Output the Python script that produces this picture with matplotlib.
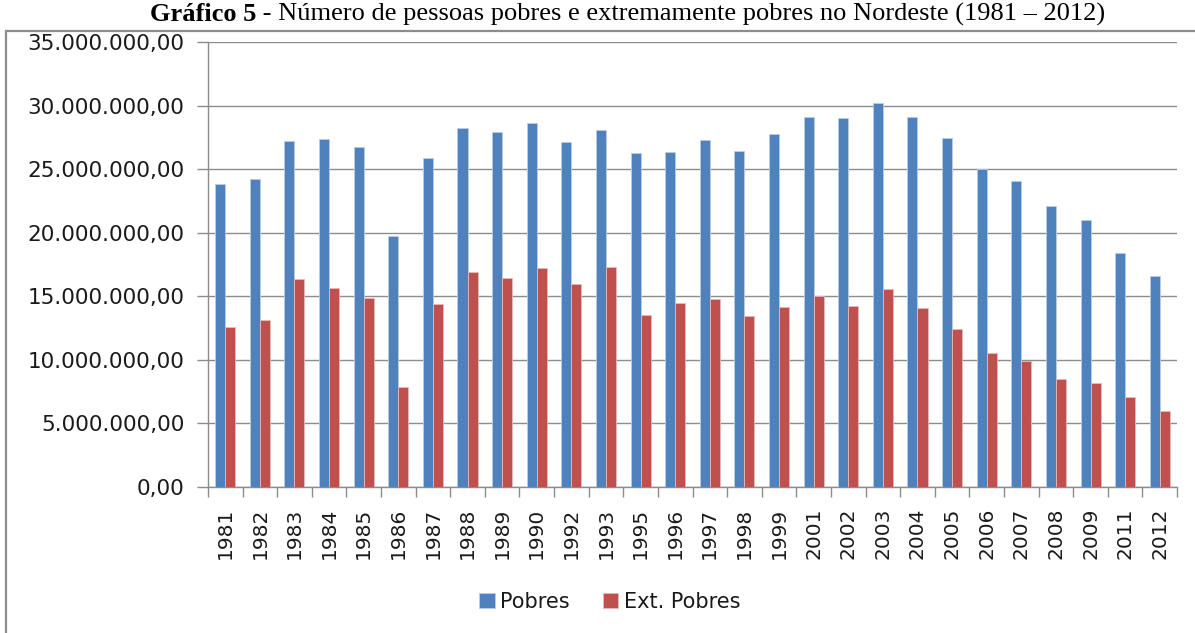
import matplotlib.pyplot as plt
import matplotlib.patches as mpatches
import matplotlib.ticker as mticker
import numpy as np

anos = ['1981', '1982', '1983', '1984', '1985', '1986', '1987', '1988', '1989', '1990',
        '1992', '1993', '1995', '1996', '1997', '1998', '1999', '2001', '2002', '2003',
        '2004', '2005', '2006', '2007', '2008', '2009', '2011', '2012']

# milhoes de pessoas
pobres = [23.8, 24.2, 27.2, 27.35, 26.75, 19.7, 25.85, 28.2, 27.9, 28.6,
          27.1, 28.05, 26.25, 26.35, 27.3, 26.45, 27.8, 29.1, 29.0, 30.2,
          29.1, 27.45, 25.0, 24.05, 22.1, 21.0, 18.4, 16.6]
ext_pobres = [12.6, 13.1, 16.35, 15.65, 14.85, 7.9, 14.4, 16.9, 16.4, 17.2,
              16.0, 17.3, 13.5, 14.45, 14.8, 13.45, 14.15, 15.05, 14.25, 15.55,
              14.05, 12.4, 10.5, 9.9, 8.5, 8.15, 7.1, 6.0]

azul = '#4F81BD'
vermelho = '#C0504D'
fonte = 'DejaVu Sans'


def fmt_br(v, pos):
    s = '{:,.2f}'.format(v)
    return s.replace(',', 'X').replace('.', ',').replace('X', '.')


def main():
    fig = plt.figure(figsize=(11.95, 6.33), dpi=100)
    ax = fig.add_axes([0.174, 0.2307, 0.811, 0.703])

    x = np.arange(len(anos))
    w = 0.29
    p = np.array(pobres) * 1e6
    e = np.array(ext_pobres) * 1e6
    ax.bar(x - w / 2, p, w, color=azul, edgecolor='#b9cde5', linewidth=0.6,
           label='Pobres', zorder=3)
    ax.bar(x + w / 2, e, w, color=vermelho, edgecolor='#e6b9b8', linewidth=0.6,
           label='Ext. Pobres', zorder=3)

    ax.set_xlim(-0.5, len(anos) - 0.5)
    ax.set_ylim(0, 35e6)
    ax.yaxis.set_major_locator(mticker.MultipleLocator(5e6))
    ax.yaxis.set_major_formatter(mticker.FuncFormatter(fmt_br))
    ax.grid(axis='y', color='#8c8c8c', linewidth=1.0, zorder=0)

    ax.set_xticks(x)
    ax.set_xticklabels(anos, rotation=90, fontsize=14.5, color='#1a1a1a', family=fonte)
    ax.set_xticks(np.arange(-0.5, len(anos)), minor=True)
    ax.tick_params(axis='x', which='major', length=0, pad=15)
    ax.tick_params(axis='x', which='minor', length=7, color='#8c8c8c', width=1)
    ax.tick_params(axis='y', length=8, color='#8c8c8c', width=1, pad=9)
    for lab in ax.get_yticklabels():
        lab.set_fontsize(15.5)
        lab.set_color('#1a1a1a')
        lab.set_family(fonte)

    for s in ['top', 'right']:
        ax.spines[s].set_visible(False)
    for s in ['left', 'bottom']:
        ax.spines[s].set_color('#8c8c8c')
        ax.spines[s].set_linewidth(1.0)

    leg = fig.legend(loc='center', bbox_to_anchor=(0.51, 0.049), ncol=2, frameon=False,
                     prop={'family': fonte, 'size': 15},
                     handlelength=0.75, handleheight=0.75, handletextpad=0.25,
                     columnspacing=1.6)
    for t in leg.get_texts():
        t.set_color('#1a1a1a')

    # moldura do grafico
    borda = mpatches.Rectangle((6 / 1195, -0.1), 1.1, 0.1 + (633 - 31) / 633,
                               transform=fig.transFigure, fill=False,
                               edgecolor='#8c8c8c', linewidth=1.6)
    fig.patches.append(borda)

    # titulo
    t1 = fig.text(150 / 1195, 1 - 21 / 633, 'Gráfico 5', fontsize=19, weight='bold',
                  family='Liberation Serif', va='baseline')
    ax.annotate(' - Número de pessoas pobres e extremamente pobres no Nordeste (1981 – 2012)',
                xy=(1, 0), xycoords=t1, va='bottom', ha='left', fontsize=19,
                family='Liberation Serif', annotation_clip=False)

    fig.savefig('out.png', dpi=100)


if __name__ == "__main__":
    main()
